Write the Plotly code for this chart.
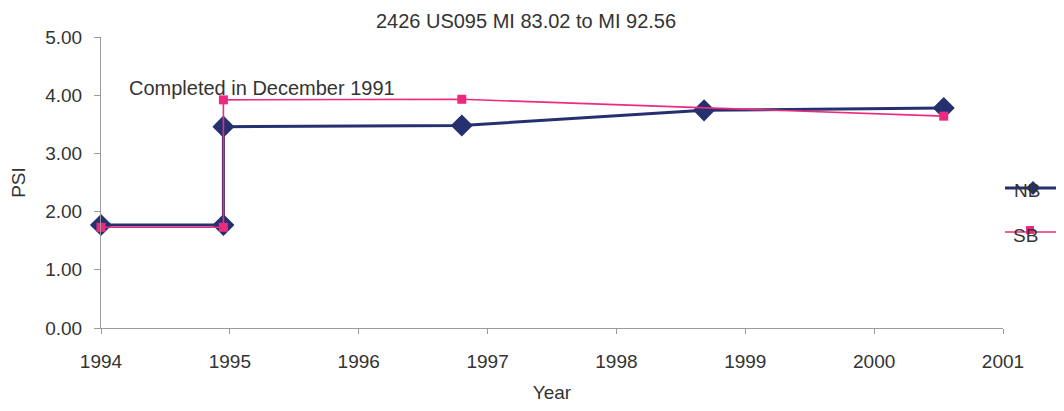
import plotly.graph_objects as go

nb_years = [1994.0, 1994.95, 1994.95, 1996.8, 1998.68, 2000.54]
nb_psi = [1.77, 1.77, 3.46, 3.48, 3.74, 3.78]
sb_years = [1994.0, 1994.95, 1994.95, 1996.8, 2000.54]
sb_psi = [1.73, 1.73, 3.92, 3.93, 3.64]
y_ticks = [0, 1, 2, 3, 4, 5]
x_ticks = [1994, 1995, 1996, 1997, 1998, 1999, 2000, 2001]

NB_COLOR = "#25316E"
SB_COLOR = "#EE2A7E"
TXT = "#333333"
FONT = "Liberation Sans, Arial, sans-serif"
FS = 19

W, H = 1048, 395
L, T = 93, 29
PW, PH = 902, 291
R = W - L - PW
B = H - T - PH

fig = go.Figure()
fig.add_trace(go.Scatter(x=nb_years, y=nb_psi, mode="lines+markers", name="NB",
                         line=dict(color=NB_COLOR, width=3),
                         marker=dict(symbol="diamond", size=17, color=NB_COLOR),
                         cliponaxis=False))
fig.add_trace(go.Scatter(x=sb_years, y=sb_psi, mode="lines+markers", name="SB",
                         line=dict(color=SB_COLOR, width=1.6),
                         marker=dict(symbol="square", size=9, color=SB_COLOR),
                         cliponaxis=False))


def px_x(p):
    return (p - L) / PW


def px_y(p):
    return (T + PH - p) / PH


# legend (drawn manually, text overlapped by the key lines as in the original)
fig.add_annotation(x=px_x(1019), y=px_y(182), xref="paper", yref="paper", text="NB",
                   showarrow=False, xanchor="center", yanchor="middle",
                   font=dict(family=FONT, size=FS, color=TXT))
fig.add_annotation(x=px_x(1017), y=px_y(227), xref="paper", yref="paper", text="SB",
                   showarrow=False, xanchor="center", yanchor="middle",
                   font=dict(family=FONT, size=FS, color=TXT))

fig.add_shape(type="line", xref="paper", yref="paper", x0=px_x(997), x1=px_x(1052),
              y0=px_y(180), y1=px_y(180), line=dict(color=NB_COLOR, width=3), layer="above")
fig.add_shape(type="line", xref="paper", yref="paper", x0=px_x(997), x1=px_x(1052),
              y0=px_y(224), y1=px_y(224), line=dict(color=SB_COLOR, width=1.6), layer="above")
cx, cy, d = 1025, 180, 7
fig.add_shape(type="path", xref="paper", yref="paper",
              path=(f"M {px_x(cx - d)} {px_y(cy)} L {px_x(cx)} {px_y(cy - d)} "
                    f"L {px_x(cx + d)} {px_y(cy)} L {px_x(cx)} {px_y(cy + d)} Z"),
              fillcolor=NB_COLOR, line=dict(width=0), layer="above")
sx, sy, s = 1022, 222, 4
fig.add_shape(type="rect", xref="paper", yref="paper",
              x0=px_x(sx - s), x1=px_x(sx + s), y0=px_y(sy + s), y1=px_y(sy - s),
              fillcolor=SB_COLOR, line=dict(width=0), layer="above")

fig.add_annotation(x=1994.2, y=4.12, xref="x", yref="y", text="Completed in December 1991",
                   showarrow=False, xanchor="left", yanchor="middle",
                   font=dict(family=FONT, size=20, color=TXT))

fig.update_layout(
    width=W, height=H,
    margin=dict(l=L, r=R, t=T, b=B, autoexpand=False),
    paper_bgcolor="white", plot_bgcolor="white",
    showlegend=False,
    font=dict(family=FONT, size=FS, color=TXT),
    title=dict(text="2426 US095 MI 83.02 to MI 92.56", x=518 / W, xref="container",
               xanchor="center", y=1 - 13 / H, yref="container", yanchor="middle",
               font=dict(family=FONT, size=20, color=TXT)),
    xaxis=dict(range=[1994, 2001], tickvals=x_ticks, ticktext=[str(v) for v in x_ticks],
               showgrid=False, zeroline=False, showline=True, linecolor="#9A9A9A",
               linewidth=1, ticks="outside", ticklen=5, tickcolor="#9A9A9A",
               ticklabelstandoff=11,
               title=dict(text="Year", font=dict(size=FS), standoff=24),
               tickfont=dict(size=FS)),
    yaxis=dict(range=[0, 5], tickvals=y_ticks, tickformat=".2f",
               showgrid=False, zeroline=False, showline=True, linecolor="#9A9A9A",
               linewidth=1, ticks="outside", ticklen=6, tickcolor="#9A9A9A",
               ticklabelstandoff=8,
               title=dict(text="PSI", font=dict(size=FS), standoff=16),
               tickfont=dict(size=FS)),
)

fig.write_html("out.html")
